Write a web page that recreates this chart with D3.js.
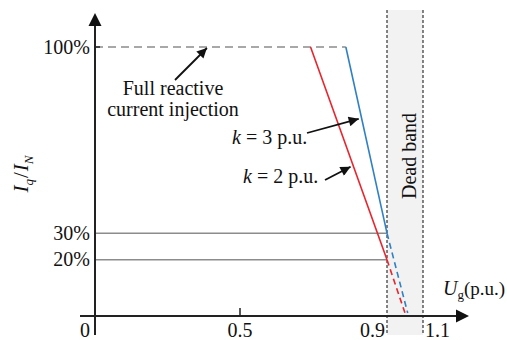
<!DOCTYPE html>
<html><head><meta charset="utf-8">
<script src="https://cdn.jsdelivr.net/npm/d3@7"></script>
<style>
html,body{margin:0;padding:0;background:#fff;}
svg{display:block;font-family:"Liberation Serif","Times New Roman",serif;}
</style></head>
<body>
<svg id="c" width="507" height="340"></svg>
<script>
// ---- data ----
const voltageTicks = [0, 0.5, 0.9, 1.1];
const voltageTickLabels = ["0", "0.5", "0.9", "1.1"];
const currentTicks = [20, 30, 100];
const currentTickLabels = ["20%", "30%", "100%"];
const seriesNames = ["k = 2 p.u.", "k = 3 p.u."];
const seriesK = [2, 3];
const seriesFullVoltage = [0.692, 0.788];   // voltage where 100% is reached
const seriesKneeVoltage = [0.9, 0.9];       // dead band start
const seriesKneeCurrent = [20, 30];         // current at 0.9 p.u.
const seriesZeroVoltage = [1.0, 1.015];     // dashed extension reaching 0
const seriesColors = ["#e8242c", "#2f80c4"];
const deadBand = [0.9, 1.1];
const fullCurrent = 100;

// ---- layout ----
const svg = d3.select("#c");
const x = d3.scaleLinear().domain([0, 0.5, 0.9, 1.1]).range([95, 240, 387, 423]);
const y = d3.scaleLinear().domain([0, 100]).range([313, 47]);
const axisY = 316, axisX = 95;

const defs = svg.append("defs");
defs.append("marker").attr("id","ah").attr("viewBox","0 0 10 10")
  .attr("refX",10).attr("refY",5).attr("markerWidth",12).attr("markerHeight",10)
  .attr("markerUnits","userSpaceOnUse").attr("orient","auto")
  .append("path").attr("d","M0,0L10,5L0,10z").attr("fill","#111");

// dead band
svg.append("rect").attr("x", x(deadBand[0])).attr("y", 10)
  .attr("width", x(deadBand[1]) - x(deadBand[0])).attr("height", 325)
  .attr("fill", "#f2f2f2");
deadBand.forEach(v => svg.append("line").attr("x1", x(v)).attr("x2", x(v))
  .attr("y1", 10).attr("y2", 335).attr("stroke", "#222").attr("stroke-width", 1.1)
  .attr("stroke-dasharray", "3,2"));
svg.append("text").attr("transform", `translate(${(x(deadBand[0])+x(deadBand[1]))/2+11},156) rotate(-90)`)
  .attr("text-anchor","middle").attr("font-size",20).attr("fill","#111").text("Dead band");

// grey reference lines
seriesKneeCurrent.forEach(c => svg.append("line")
  .attr("x1", axisX).attr("x2", x(0.9)).attr("y1", y(c)).attr("y2", y(c))
  .attr("stroke", "#8c8c8c").attr("stroke-width", 1.5));
svg.append("line").attr("x1", axisX).attr("x2", x(d3.max(seriesFullVoltage)))
  .attr("y1", y(fullCurrent)).attr("y2", y(fullCurrent))
  .attr("stroke", "#8c8c8c").attr("stroke-width", 1.5).attr("stroke-dasharray", "8,5");

// series lines
const line = d3.line().x(d => x(d[0])).y(d => y(d[1]));
seriesK.forEach((k, i) => {
  svg.append("path").attr("d", line([[seriesFullVoltage[i], fullCurrent],[seriesKneeVoltage[i], seriesKneeCurrent[i]]]))
    .attr("fill","none").attr("stroke", seriesColors[i]).attr("stroke-width", 1.6);
  svg.append("path").attr("d", line([[seriesKneeVoltage[i], seriesKneeCurrent[i]],[seriesZeroVoltage[i], 0]]))
    .attr("fill","none").attr("stroke", seriesColors[i]).attr("stroke-width", 1.6)
    .attr("stroke-dasharray", "6,4");
});

// axes
svg.append("line").attr("x1", 80).attr("x2", 458).attr("y1", axisY).attr("y2", axisY)
  .attr("stroke","#222").attr("stroke-width",2);
svg.append("path").attr("d", `M469,${axisY}L456,${axisY-6.5}L456,${axisY+6.5}z`).attr("fill","#111");
svg.append("line").attr("x1", axisX).attr("x2", axisX).attr("y1", 24).attr("y2", 335)
  .attr("stroke","#222").attr("stroke-width",2);
svg.append("path").attr("d", `M${axisX},13L${axisX-6.5},26L${axisX+6.5},26z`).attr("fill","#111");

// x ticks
svg.append("line").attr("x1", x(0.5)).attr("x2", x(0.5)).attr("y1", axisY-8).attr("y2", axisY)
  .attr("stroke","#222").attr("stroke-width",1.5);
voltageTicks.forEach((v, i) => {
  const anchor = v === 0 ? "end" : v === 0.9 ? "end" : v === 1.1 ? "start" : "middle";
  const dx = v === 0 ? -5 : v === 0.9 ? -2 : v === 1.1 ? 2 : 0;
  svg.append("text").attr("x", x(v) + dx).attr("y", 337).attr("text-anchor", anchor)
    .attr("font-size", 20).attr("fill","#111").text(voltageTickLabels[i]);
});

// y ticks
currentTicks.forEach((c, i) => {
  svg.append("text").attr("x", axisX - 5).attr("y", y(c)).attr("dy","0.33em")
    .attr("text-anchor","end").attr("font-size",20).attr("fill","#111").text(currentTickLabels[i]);
});
svg.append("line").attr("x1", axisX).attr("x2", axisX+5).attr("y1", y(100)).attr("y2", y(100))
  .attr("stroke","#222").attr("stroke-width",1.5);

// axis titles
const yt = svg.append("text").attr("transform","translate(28,174) rotate(-90)")
  .attr("text-anchor","middle").attr("font-size",21).attr("fill","#111");
yt.append("tspan").attr("font-style","italic").text("I");
yt.append("tspan").attr("font-style","italic").attr("font-size",13).attr("dy",5).text("q");
yt.append("tspan").attr("dy",-5).attr("dx",1).text("/");
yt.append("tspan").attr("font-style","italic").attr("dx",1).text("I");
yt.append("tspan").attr("font-style","italic").attr("font-size",13).attr("dy",5).text("N");

const xt = svg.append("text").attr("x",443).attr("y",295).attr("font-size",19).attr("fill","#111");
xt.append("tspan").attr("font-style","italic").attr("font-size",20).text("U");
xt.append("tspan").attr("font-size",13).attr("dy",4).text("g");
xt.append("tspan").attr("dy",-4).text("(p.u.)");

// annotations
svg.append("text").attr("x",173).attr("y",95).attr("text-anchor","middle")
  .attr("font-size",20).attr("fill","#111").text("Full reactive");
svg.append("text").attr("x",173).attr("y",116).attr("text-anchor","middle")
  .attr("font-size",20).attr("fill","#111").text("current injection");
svg.append("line").attr("x1",175).attr("y1",80).attr("x2",x(0.386)).attr("y2",y(fullCurrent)+1)
  .attr("stroke","#111").attr("stroke-width",1.8).attr("marker-end","url(#ah)");

function onSeries(i, c) {
  const u = seriesFullVoltage[i] + (fullCurrent - c) / (fullCurrent - seriesKneeCurrent[i]) * (seriesKneeVoltage[i] - seriesFullVoltage[i]);
  return [x(u) - 3, y(c)];
}
const labelPos = [[243, 183, 325, 180, 55], [232, 144, 307, 133, 73]];
seriesK.forEach((k, i) => {
  const [tx, ty, lx, ly, c] = labelPos[i];
  const t = svg.append("text").attr("x", tx).attr("y", ty).attr("font-size", 20).attr("fill","#111");
  t.append("tspan").attr("font-style","italic").text("k");
  t.append("tspan").text(" = " + k + " p.u.");
  const tip = onSeries(i, c);
  svg.append("line").attr("x1", lx).attr("y1", ly).attr("x2", tip[0]).attr("y2", tip[1])
    .attr("stroke","#111").attr("stroke-width",1.8).attr("marker-end","url(#ah)");
});
</script>
</body></html>
